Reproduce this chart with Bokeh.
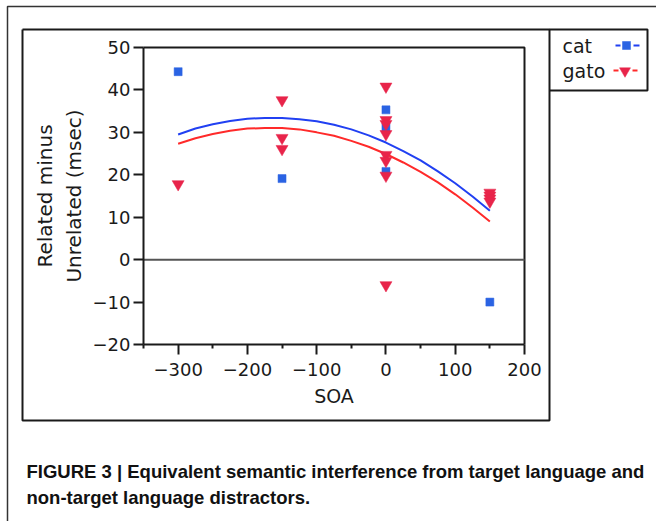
from bokeh.plotting import figure
from bokeh.models import Range1d, FixedTicker
from bokeh.core.properties import value
from bokeh.embed import file_html
from bokeh.resources import INLINE

# ---------------- data ----------------
cat_soa = [-300, -150, 0, 0, 0, 150]
cat_diff = [44.3, 19.1, 35.3, 31.2, 20.8, -10.0]

gato_soa = [-300, -150, -150, -150, 0, 0, 0, 0, 0, 0, 0, 0, 150, 150, 150, 150]
gato_diff = [17.8, 37.6, 28.7, 26.1, 40.8, 32.9, 32.0, 29.6, 24.7, 23.3, 19.8,
             -6.0, 15.8, 15.1, 14.4, 13.7]

fit_soa = [-300, -275, -250, -225, -200, -175, -150, -125, -100, -75, -50,
           -25, 0, 25, 50, 75, 100, 125, 150]
cat_fit = [29.5, 30.9, 31.9, 32.7, 33.2, 33.4, 33.4, 33.1, 32.6, 31.8, 30.7,
           29.3, 27.6, 25.6, 23.4, 20.8, 18.0, 14.9, 11.5]
gato_fit = [27.3, 28.6, 29.6, 30.4, 30.9, 31.0, 31.0, 30.7, 30.0, 29.2, 28.0,
            26.6, 24.9, 22.9, 20.7, 18.2, 15.4, 12.3, 9.0]

x_limits = [-350, 200]
y_limits = [-20, 50]
xtick_values = [-300, -200, -100, 0, 100, 200]
xtick_labels = ["\u2212300", "\u2212200", "\u2212100", "0", "100", "200"]
xminor_values = [-350, -250, -150, -50, 50, 150]
ytick_values = [-20, -10, 0, 10, 20, 30, 40, 50]
ytick_labels = ["\u221220", "\u221210", "0", "10", "20", "30", "40", "50"]

series_names = ["cat", "gato"]
x_title = "SOA"
y_title = "Related minus\nUnrelated (msec)"
caption_lines = ["FIGURE 3 | Equivalent semantic interference from target language and",
                 "non-target language distractors."]

# ---------------- styles / page layout (pixels) ----------------
W, H = 656, 521
PLOT_L, PLOT_R, PLOT_T, PLOT_B = 143, 524, 47, 344
BLUE_M = "#2a63e3"
RED_M = "#e8244a"
BLUE_L = "#2140f2"
RED_L = "#ff2a2a"
INK = "#1a1a1a"
FONT = "DejaVu Sans"

X_MIN, X_MAX = x_limits
Y_MIN, Y_MAX = y_limits
kx = (PLOT_R - PLOT_L) / (X_MAX - X_MIN)
ky = (PLOT_B - PLOT_T) / (Y_MAX - Y_MIN)


def dx(px):
    return X_MIN + (px - PLOT_L) / kx


def dy(py):
    return Y_MAX - (py - PLOT_T) / ky


p = figure(width=W, height=H, output_backend="svg", toolbar_location=None,
           x_range=Range1d(dx(0), dx(W)), y_range=Range1d(dy(H), dy(0)))
p.min_border = 0
p.title.visible = False
p.background_fill_color = "white"
p.border_fill_color = "white"
p.outline_line_color = None
p.xgrid.visible = False
p.ygrid.visible = False

for ax in (p.xaxis[0], p.yaxis[0]):
    ax.axis_line_color = INK
    ax.axis_line_width = 2
    ax.major_tick_line_color = INK
    ax.major_tick_line_width = 2
    ax.minor_tick_line_color = INK
    ax.minor_tick_line_width = 2
    ax.major_tick_in = 0
    ax.major_tick_out = 10
    ax.minor_tick_in = 0
    ax.minor_tick_out = 4
    ax.major_label_text_font = FONT
    ax.major_label_text_font_size = "18px"
    ax.major_label_text_color = INK
    ax.axis_label_text_font = FONT
    ax.axis_label_text_font_style = "normal"
    ax.axis_label_text_color = INK

p.xaxis.fixed_location = Y_MIN
p.xaxis.bounds = (X_MIN, X_MAX)
p.xaxis.ticker = FixedTicker(ticks=xtick_values, minor_ticks=xminor_values)
p.xaxis.major_label_overrides = dict(zip(xtick_values, xtick_labels))
p.xaxis.major_label_standoff = 8
p.xaxis.axis_label = x_title
p.xaxis.axis_label_text_font_size = "19px"
p.xaxis.axis_label_standoff = 6

p.yaxis.fixed_location = X_MIN
p.yaxis.bounds = (Y_MIN, Y_MAX)
p.yaxis.ticker = FixedTicker(ticks=ytick_values, minor_ticks=[])
p.yaxis.major_label_overrides = dict(zip(ytick_values, ytick_labels))
p.yaxis.major_label_standoff = 3
p.yaxis.axis_label = y_title
p.yaxis.axis_label_text_font_size = "20px"
p.yaxis.axis_label_standoff = 4

# plot box (top and right edges) and zero line
p.line([X_MIN, X_MAX, X_MAX], [Y_MAX, Y_MAX, Y_MIN], line_color=INK, line_width=2)
p.line([X_MIN, X_MAX], [0, 0], line_color="#555555", line_width=2)

# data
p.line(fit_soa, cat_fit, line_color=BLUE_L, line_width=2)
p.line(fit_soa, gato_fit, line_color=RED_L, line_width=2)
p.scatter(cat_soa, cat_diff, marker="square", size=8, fill_color=BLUE_M,
          line_color=BLUE_M, line_width=0.5)
p.scatter(gato_soa, gato_diff, marker="inverted_triangle", size=12,
          fill_color=RED_M, line_color=RED_M, line_width=0.5)

# ---------------- page decorations ----------------
# outer frame (left and top edges)
p.line([dx(7), dx(7), dx(W + 5)], [dy(H + 5), dy(6), dy(6)],
       line_color="#333333", line_width=1.5)
# inner frame
p.line([dx(22), dx(549), dx(549), dx(22), dx(22)],
       [dy(29), dy(29), dy(420), dy(420), dy(29)], line_color=INK, line_width=2)
# legend box
p.line([dx(549), dx(647), dx(647), dx(549)],
       [dy(29), dy(29), dy(90), dy(90)], line_color=INK, line_width=2)

legend_py = [45, 70.5]
p.text([dx(562)] * 2, [dy(v) for v in legend_py], text=series_names,
       text_font=value(FONT), text_font_size="19px", text_color=INK,
       text_baseline="middle", text_align="left")
# cat: -■-
p.segment([dx(615), dx(633)], [dy(45)] * 2, [dx(620), dx(639)], [dy(45)] * 2,
          line_color=BLUE_L, line_width=2)
p.scatter([dx(626)], [dy(45)], marker="square", size=8, fill_color=BLUE_M,
          line_color=BLUE_M, line_width=0.5)
# gato: -▼-
p.segment([dx(613), dx(632)], [dy(70)] * 2, [dx(618), dx(637)], [dy(70)] * 2,
          line_color=RED_L, line_width=2)
p.scatter([dx(624.5)], [dy(70.5)], marker="inverted_triangle", size=11,
          fill_color=RED_M, line_color=RED_M, line_width=0.5)

# caption
p.text([dx(26)] * 2, [dy(471), dy(497)], text=caption_lines,
       text_font=value("Liberation Sans"), text_font_style="bold",
       text_font_size="18.5px", text_color="#111111",
       text_baseline="middle", text_align="left")

open("out.html", "w").write(file_html(p, INLINE))
